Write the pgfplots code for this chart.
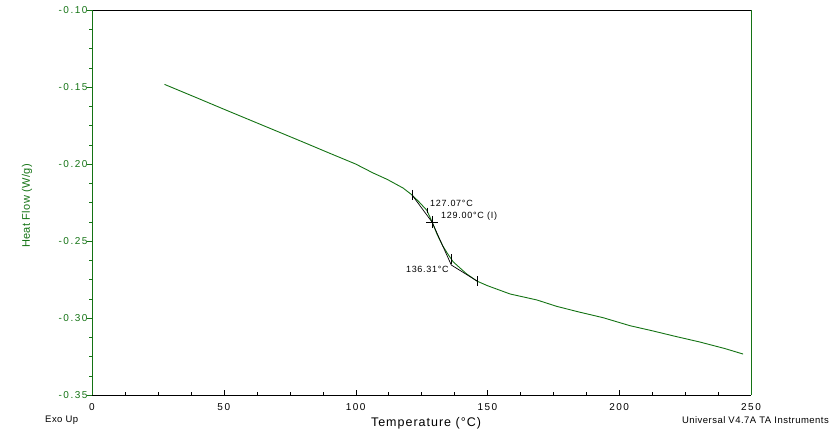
\documentclass[border=0pt]{standalone}
\usepackage{pgfplots}
\pgfplotsset{compat=1.18}
\usepackage{fontspec}
\setmainfont{Liberation Sans}
\newfontfamily\tickfont[LetterSpace=15]{Liberation Sans}
\newfontfamily\annfont[LetterSpace=8]{Liberation Sans}
\newfontfamily\labfont[LetterSpace=8]{Liberation Sans}
\newfontfamily\ylabfont[LetterSpace=3]{Liberation Sans}
\newfontfamily\smallfont[LetterSpace=5]{Liberation Sans}
\definecolor{dg}{RGB}{20,115,20}
\pgfplotstableread{
T v
27.5 -0.1483
40 -0.1572
50 -0.1644
60 -0.1715
70 -0.1786
80 -0.1857
90 -0.1929
100 -0.2000
106.6 -0.2058
112 -0.2100
118 -0.2156
121.4 -0.2201
124 -0.2245
127 -0.2300
129 -0.2375
131 -0.2460
133 -0.2530
135 -0.2585
137 -0.2635
139.6 -0.2675
142 -0.2712
146 -0.2760
150 -0.2790
158.6 -0.2844
168.8 -0.2883
176.4 -0.2925
185 -0.2962
193.9 -0.2998
204.1 -0.3050
212.8 -0.3084
221 -0.3118
230.6 -0.3156
240 -0.3198
247 -0.3234
}\curve
\begin{document}
\begin{tikzpicture}[x=1pt,y=1pt]
\useasboundingbox (0,0) rectangle (829,445);
\begin{axis}[
  at={(92pt,50pt)}, anchor=south west,
  scale only axis, width=659pt, height=385pt,
  xmin=0, xmax=250, ymin=-0.35, ymax=-0.10,
  xtick={0,50,...,250}, ytick={-0.35,-0.30,...,-0.10},
  minor x tick num=3, minor y tick num=3,
  xtick pos=bottom, ytick pos=left,
  tick align=inside,
  major tick length=5pt, minor tick length=3pt,
  major y tick style={xshift=-5pt}, minor y tick style={xshift=-3pt},
  separate axis lines,
  x axis line style={black},
  y axis line style={dg},
  tick style={black},
  y tick style={dg},
  /pgf/number format/assume math mode=true,
  yticklabel style={/pgf/number format/fixed, /pgf/number format/fixed zerofill, /pgf/number format/precision=2, font=\tickfont\fontsize{10}{11}\selectfont, text=dg, xshift=-1pt},
  xticklabel style={font=\tickfont\fontsize{10}{11}\selectfont, yshift=-5pt},
  scaled y ticks=false,
  clip=false,
]
\addplot[dg, line width=0.9pt] table[x=T,y=v] {\curve};
\addplot[black, line width=0.7pt] coordinates {(121.4,-0.2201) (129.0,-0.2377) (136.3,-0.2656) (146.1,-0.2760)};
\addplot[only marks, black, mark=|, mark size=5pt, mark options={line width=0.7pt}] coordinates {(121.4,-0.2201) (136.3,-0.2620) (146.1,-0.2760)};
\addplot[only marks, black, mark=|, mark size=2.5pt, mark options={line width=0.7pt}] coordinates {(127.1,-0.2299)};
\addplot[only marks, black, mark=+, mark size=6pt, mark options={line width=0.7pt}] coordinates {(129.0,-0.2377)};
\node[anchor=west, font=\annfont\fontsize{9}{10}\selectfont, inner sep=0pt] at (axis cs:128.2,-0.2254) {127.07°C};
\node[anchor=west, font=\annfont\fontsize{9}{10}\selectfont, inner sep=0pt] at (axis cs:132.4,-0.2338) {129.00°C (I)};
\node[anchor=east, font=\annfont\fontsize{9}{10}\selectfont, inner sep=0pt] at (axis cs:135.4,-0.2682) {136.31°C};
\end{axis}
\node[rotate=90, text=dg, font=\ylabfont\fontsize{11}{12}\selectfont] at (27,239) {Heat Flow (W/g)};
\node[font=\labfont\fontsize{12.5}{13}\selectfont] at (426,22) {Temperature (°C)};
\node[anchor=west, font=\smallfont\fontsize{9.5}{10}\selectfont, inner sep=0pt] at (45,25) {Exo Up};
\node[anchor=east, font=\smallfont\fontsize{9.5}{10}\selectfont, inner sep=0pt] at (829,25) {Universal V4.7A TA Instruments};
\end{tikzpicture}
\end{document}
